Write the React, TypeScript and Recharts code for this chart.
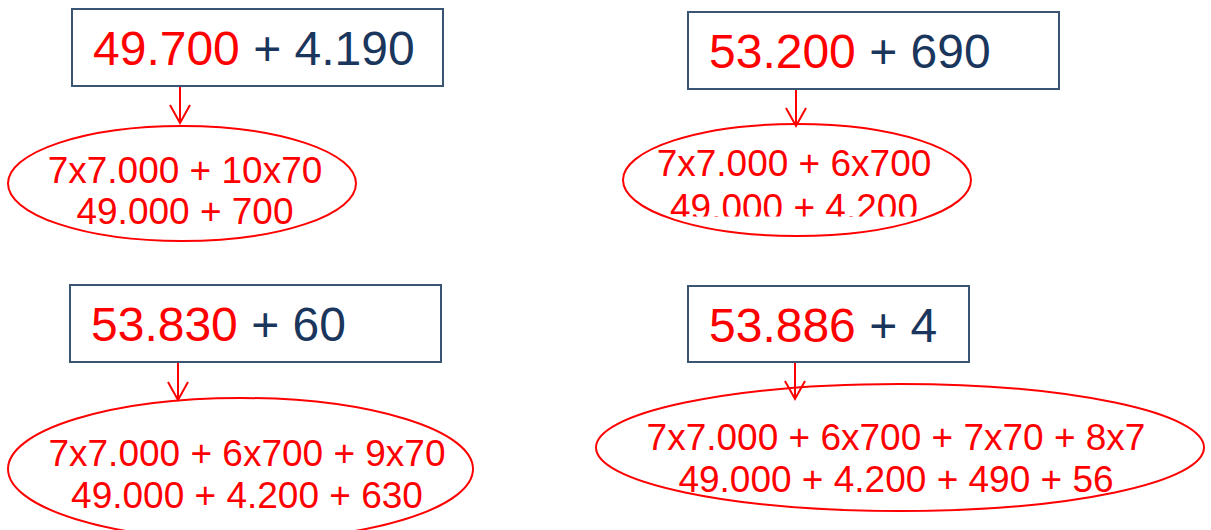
import React from "react";
import { ScatterChart, Scatter, XAxis, YAxis } from "recharts";

// ---- data (text content) ----
const addends = ["49.700", "53.200", "53.830", "53.886"];
const increments = ["4.190", "690", "60", "4"];
const productLines = [
  "7x7.000 + 10x70",
  "7x7.000 + 6x700",
  "7x7.000 + 6x700 + 9x70",
  "7x7.000 + 6x700 + 7x70 + 8x7",
];
const sumLines = [
  "49.000 + 700",
  "49.000 + 4.200",
  "49.000 + 4.200 + 630",
  "49.000 + 4.200 + 490 + 56",
];

// ---- layout (positions / sizes, kept apart from the data) ----
const W = 1211;
const H = 530;
const boxLayout = [
  { x: 72, y: 9, w: 371, h: 77 },
  { x: 688, y: 12, w: 371, h: 77 },
  { x: 70, y: 285, w: 371, h: 77 },
  { x: 688, y: 286, w: 281, h: 76 },
];
const arrowLayout = [
  { x: 180, y: 86, len: 37 },
  { x: 796, y: 89, len: 37 },
  { x: 178, y: 362, len: 38 },
  { x: 795, y: 362, len: 37 },
];
const ellipseLayout = [
  { x: 182, y: 183.5, rx: 174, ry: 57.5, tx: 3, b1: -0.5, b2: 40.5, clip: null as number | null },
  { x: 797, y: 180, rx: 174, ry: 56, tx: -3, b1: -4, b2: 40, clip: 36.5 as number | null },
  { x: 240.5, y: 469, rx: 232.5, ry: 71, tx: 6.5, b1: -3, b2: 39, clip: null as number | null },
  { x: 900, y: 447.5, rx: 304, ry: 63.5, tx: -4, b1: 2.5, b2: 44.5, clip: null as number | null },
];

const RED = "#FF0000";
const NAVY = "#1B365D";
const BOX_STROKE = "#3A5573";
const FONT = "'Liberation Sans', Arial, Helvetica, sans-serif";

const boxData = addends.map((a, i) => ({ x: boxLayout[i].x, y: boxLayout[i].y, i }));
const arrowData = addends.map((a, i) => ({ x: arrowLayout[i].x, y: arrowLayout[i].y, i }));
const ellipseData = productLines.map((p, i) => ({ x: ellipseLayout[i].x, y: ellipseLayout[i].y, i }));

const BoxShape = (props: any) => {
  const { cx, cy, payload } = props;
  const i = payload.i;
  const L = boxLayout[i];
  return (
    <g>
      <rect x={cx} y={cy} width={L.w} height={L.h} fill="#fff" stroke={BOX_STROKE} strokeWidth={2} />
      <text x={cx + 21} y={cy + 56} fontFamily={FONT} fontSize={48} style={{ whiteSpace: "pre" }}>
        <tspan fill={RED}>{addends[i]}</tspan>
        <tspan fill={NAVY}>{" + " + increments[i]}</tspan>
      </text>
    </g>
  );
};

const ArrowShape = (props: any) => {
  const { cx, cy, payload } = props;
  const L = arrowLayout[payload.i];
  const tip = cy + L.len;
  return (
    <g stroke={RED} strokeWidth={2} fill="none">
      <line x1={cx} y1={cy} x2={cx} y2={tip} />
      <polyline points={`${cx - 10},${tip - 18} ${cx},${tip} ${cx + 10},${tip - 18}`} />
    </g>
  );
};

const EllipseShape = (props: any) => {
  const { cx, cy, payload } = props;
  const i = payload.i;
  const L = ellipseLayout[i];
  const clipId = `ellclip-${i}`;
  return (
    <g>
      <ellipse cx={cx} cy={cy} rx={L.rx} ry={L.ry} fill="none" stroke={RED} strokeWidth={2} />
      {L.clip !== null && (
        <defs>
          <clipPath id={clipId}>
            <rect x={cx - L.rx} y={cy - L.ry - 10} width={L.rx * 2} height={L.ry + 10 + L.clip} />
          </clipPath>
        </defs>
      )}
      <g clipPath={L.clip !== null ? `url(#${clipId})` : undefined}>
        <text x={cx + L.tx} y={cy + L.b1} fill={RED} fontFamily={FONT} fontSize={37} textAnchor="middle">
          {productLines[i]}
        </text>
        <text x={cx + L.tx} y={cy + L.b2} fill={RED} fontFamily={FONT} fontSize={37} textAnchor="middle">
          {sumLines[i]}
        </text>
      </g>
    </g>
  );
};

export default function App() {
  return (
    <div style={{ position: "absolute", left: 0, top: 0, width: W, height: H, background: "#fff" }}>
      <ScatterChart width={W} height={H} margin={{ top: 0, right: 0, bottom: 0, left: 0 }}>
        <XAxis type="number" dataKey="x" domain={[0, W]} hide allowDataOverflow />
        <YAxis type="number" dataKey="y" domain={[0, H]} reversed hide allowDataOverflow />
        <Scatter data={arrowData} shape={ArrowShape} isAnimationActive={false} />
        <Scatter data={boxData} shape={BoxShape} isAnimationActive={false} />
        <Scatter data={ellipseData} shape={EllipseShape} isAnimationActive={false} />
      </ScatterChart>
    </div>
  );
}
